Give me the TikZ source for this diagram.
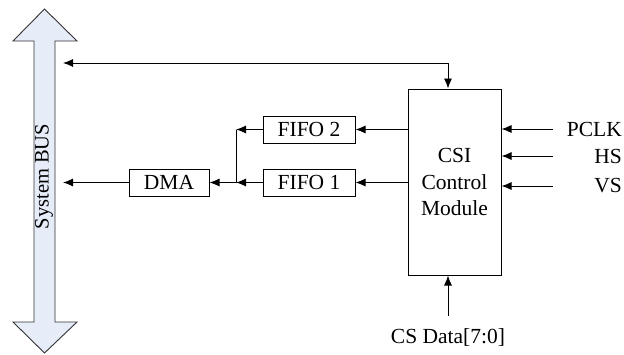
\documentclass[tikz,border=0pt]{standalone}
\usepackage{fontspec}
\setmainfont{Liberation Serif}
\usetikzlibrary{arrows.meta}

\definecolor{busfill}{RGB}{230,236,248}

\tikzset{
    blok/.style={draw, line width=1pt, inner sep=0pt, align=center,
        font=\fontsize{21.5}{26.7}\selectfont},
    popis/.style={inner sep=0pt, font=\fontsize{21.5}{26.7}\selectfont},
    sip/.style={line width=0.9pt, -{Latex[length=10pt,width=8pt]}},
    sip2/.style={line width=0.9pt, {Latex[length=10pt,width=8pt]}-{Latex[length=10pt,width=8pt]}}
}

\begin{document}
\begin{tikzpicture}[x=1pt, y=-1pt]
    \useasboundingbox (0,0) rectangle (624,354);

    % sběrnice
    \filldraw[fill=busfill, draw=black!80, line width=0.9pt]
        (44.5,9) -- (77,41) -- (55,41) -- (55,322) -- (77,322) -- (44.5,353)
        -- (13,322) -- (34,322) -- (34,41) -- (13,41) -- cycle;
    \node[popis, rotate=90, font=\fontsize{20.5}{24}\selectfont] (bus) at (44,176.5) {System BUS};
    \coordinate (busa) at (63,63);
    \coordinate (busb) at (63,182.5);

    % bloky
    \node[blok, minimum width=93, minimum height=186] (csi) at (454.5,182) {CSI\\Control\\Module};
    \node[blok, minimum width=92, minimum height=27] (fifo2) at (309,129.5) {FIFO 2};
    \node[blok, minimum width=92, minimum height=27] (fifo1) at (309,182.5) {FIFO 1};
    \node[blok, minimum width=80, minimum height=27] (dma) at (169,182.5) {DMA};
    \coordinate (j2) at (236,129.5);
    \coordinate (j1) at (236,182.5);

    % vstupy
    \node[popis, anchor=east] (pclk) at (622,129) {PCLK};
    \node[popis, anchor=east] (hs) at (622,156) {HS};
    \node[popis, anchor=east] (vs) at (622,186) {VS};
    \coordinate (pin) at (553,129);
    \coordinate (hin) at (553,156);
    \coordinate (vin) at (553,186);
    \node[popis] (data) at (448,337) {CS Data[7:0]};
    \coordinate (din) at (448,316);

    % spoje
    \draw[sip2] (busa) -| ([xshift=-6.5]csi.north);
    \draw[sip] (csi.west |- fifo2) -- (fifo2.east);
    \draw[sip] (csi.west |- fifo1) -- (fifo1.east);
    \draw[sip] (fifo2.west) -- (j2);
    \draw[line width=0.9pt] (j2) -- (j1);
    \draw[sip] (fifo1.west) -- (j1);
    \draw[sip] (j1) -- (dma.east);
    \draw[sip] (dma.west) -- (busb);
    \draw[sip] (pin) -- (pin -| csi.east);
    \draw[sip] (hin) -- (hin -| csi.east);
    \draw[sip] (vin) -- (vin -| csi.east);
    \draw[sip] (din) -- (din |- csi.south);
\end{tikzpicture}
\end{document}
